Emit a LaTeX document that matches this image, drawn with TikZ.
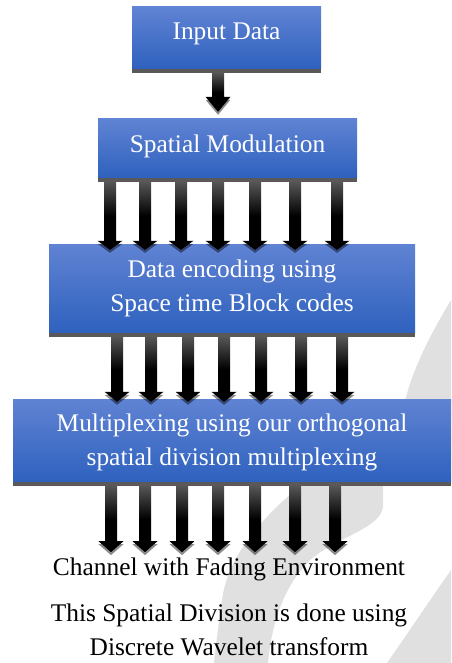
\documentclass[tikz,border=0pt]{standalone}
\usepackage{fontspec}
\setmainfont{Liberation Serif}
\usetikzlibrary{calc}
\definecolor{boxtop}{RGB}{96,131,211}
\definecolor{boxbot}{RGB}{46,97,190}
\definecolor{boxshadow}{RGB}{89,89,89}
\definecolor{arrowtop}{RGB}{85,85,85}
\definecolor{wmark}{RGB}{224,224,224}
\tikzset{
  flowbox/.style={rectangle, inner sep=0pt, top color=boxtop, bottom color=boxbot,
    text=white, align=center, font=\fontsize{25.4}{34}\selectfont},
  plaintext/.style={inner sep=0pt, text=black, align=center, font=\fontsize{25.4}{33}\selectfont},
  headshadow/.style={fill=black, opacity=0.45},
  arrowbody/.style={top color=arrowtop, bottom color=black, middle color=black},
}
% #1 from node, #2 to node, #3 x (px), #4 tip offset below #2.north (px), #5 head length (px)
\newcommand\fatarrow[5]{%
  \fill[headshadow] let \p1=(#3,0 |- #1.south), \p2=(#3,0 |- #2.north) in
    ({\x1+6pt},{\y2-(#4)*1pt+(#5)*1pt-3pt}) -- ({\x1+12.5pt},{\y2-(#4)*1pt+(#5)*1pt-3pt})
    -- ({\x1},{\y2-(#4)*1pt-3pt})
    -- ({\x1-12.5pt},{\y2-(#4)*1pt+(#5)*1pt-3pt}) -- ({\x1-6pt},{\y2-(#4)*1pt+(#5)*1pt-3pt}) -- cycle;
  \shade[arrowbody] let \p1=(#3,0 |- #1.south), \p2=(#3,0 |- #2.north) in
    ({\x1-6pt},{\y1-4pt}) -- ({\x1+6pt},{\y1-4pt})
    -- ({\x1+6pt},{\y2-(#4)*1pt+(#5)*1pt}) -- ({\x1+12.5pt},{\y2-(#4)*1pt+(#5)*1pt})
    -- ({\x1},{\y2-(#4)*1pt})
    -- ({\x1-12.5pt},{\y2-(#4)*1pt+(#5)*1pt}) -- ({\x1-6pt},{\y2-(#4)*1pt+(#5)*1pt}) -- cycle;
}
\newcommand\boxshadowstrip[1]{%
  \fill[boxshadow] (#1.south west) rectangle ([yshift=-4pt]#1.south east);
}
\begin{document}
\begin{tikzpicture}[x=1pt,y=-1pt]
\useasboundingbox (0,0) rectangle (451,663);
% watermark
\fill[wmark] (451,300) .. controls (430,335) and (412,370) .. (404,405) -- (451,405) -- cycle;
\fill[wmark] (300,486) .. controls (262,518) and (228,555) .. (222,600)
  .. controls (218,630) and (215,650) .. (214,663) -- (268,663)
  .. controls (272,620) and (285,585) .. (310,560)
  .. controls (340,535) and (383,528) .. (383,505) -- (383,486) -- cycle;
\fill[wmark] (387,663) .. controls (410,630) and (430,600) .. (451,570) -- (451,663) -- cycle;
% boxes
\node[flowbox, minimum width=189pt, minimum height=62pt, text height=17.5pt, text depth=15pt] (b1) at (226.5,38) {Input Data};
\node[flowbox, minimum width=259pt, minimum height=59pt, text height=17.5pt, text depth=9pt] (b2) at (227.5,148.5) {Spatial Modulation};
\node[flowbox, minimum width=366pt, minimum height=89pt] (b3) at (232,288.5) {Data encoding using\\Space time Block codes};
\node[flowbox, minimum width=438pt, minimum height=83pt] (b4) at (232,440.5) {\rule{0pt}{21pt}Multiplexing using our orthogonal\\spatial division multiplexing};
\boxshadowstrip{b1}
\boxshadowstrip{b2}
\boxshadowstrip{b3}
\boxshadowstrip{b4}
% texts below
\node[plaintext, anchor=base] (ch) at (229,575) {Channel with Fading Environment};
\node[plaintext, anchor=base] (note1) at (229,621.5) {This Spatial Division is done using};
\node[plaintext, anchor=base] (note2) at (229,655) {Discrete Wavelet transform};
% arrows
\fatarrow{b1}{b2}{218}{-7}{15}
\foreach \xx in {110,145,181,218,255,295,337} {\fatarrow{b2}{b3}{\xx}{6}{9}}
\foreach \xx in {117,151,188,224,261,301,342} {\fatarrow{b3}{b4}{\xx}{3}{10}}
\foreach \xx in {111,145,182,218,255,295,335} {\fatarrow{b4}{ch}{\xx}{-5}{11}}
\end{tikzpicture}
\end{document}
